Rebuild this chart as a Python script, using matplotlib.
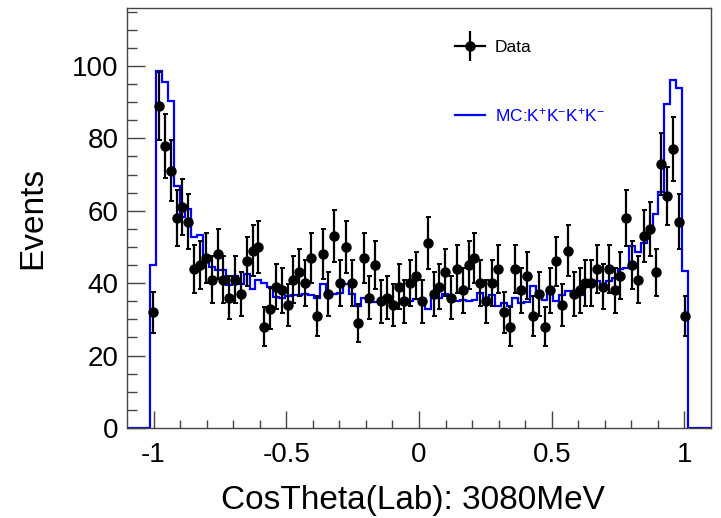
import numpy as np
import matplotlib
matplotlib.use('Agg')
import matplotlib.pyplot as plt
from matplotlib.lines import Line2D

plt.rcParams['font.family'] = ['Liberation Sans', 'DejaVu Sans']
plt.rcParams['mathtext.default'] = 'regular'

# histogram binning: 100 bins on [-1.1, 1.1], filled bins are 4..95
n_bins = 100
x_lo, x_hi = -1.1, 1.1
first_bin = 4

# data counts, bins 4..95
data = [32, 89, 78, 71, 58, 61, 57, 44, 45, 47, 41, 48, 41, 36, 41, 37,
        46, 49, 50, 28, 33, 39, 38, 34, 41, 43, 40, 47, 31, 48, 37, 53,
        40, 50, 40, 29, 47, 36, 45, 35, 36, 34, 39, 35, 40, 42, 35, 51,
        37, 39, 43, 36, 44, 38, 45, 47, 40, 35, 40, 44, 32, 28, 44, 38,
        42, 31, 37, 28, 38, 46, 34, 49, 37, 38, 40, 40, 44, 39, 44, 38,
        42, 58, 45, 41, 53, 55, 43, 73, 64, 77, 57, 31]

# MC K+K-K+K- (normalised), bins 4..95
mc = [45.0, 98.7, 95.7, 90.4, 66.9, 58.4, 60.5, 52.8, 53.4, 47.5, 44.4, 43.6,
      43.6, 39.5, 42.0, 39.8, 42.5, 38.3, 40.9, 40.1, 38.9, 36.3, 35.9, 36.5,
      36.6, 36.6, 37.0, 36.7, 35.8, 39.9, 36.8, 36.9, 37.2, 39.8, 37.0, 33.6,
      36.0, 34.7, 34.7, 34.7, 34.7, 34.3, 34.2, 34.7, 35.1, 35.6, 35.6, 32.8,
      36.5, 35.9, 37.1, 35.9, 35.2, 35.4, 35.2, 35.4, 37.3, 34.5, 36.6, 33.8,
      34.4, 33.6, 35.8, 34.6, 34.9, 39.1, 36.6, 35.4, 38.3, 35.1, 36.8, 37.9,
      36.5, 36.6, 40.5, 40.9, 40.7, 39.6, 40.5, 41.3, 43.8, 44.3, 50.4, 48.7,
      51.0, 55.2, 59.1, 65.1, 89.5, 96.0, 93.8, 43.4]

edges = np.linspace(x_lo, x_hi, n_bins + 1)
centers = 0.5 * (edges[:-1] + edges[1:])
mc_full = np.zeros(n_bins)
mc_full[first_bin:first_bin + len(mc)] = mc
data = np.array(data, dtype=float)
xc = centers[first_bin:first_bin + len(data)]

fig = plt.figure(figsize=(7.21, 5.18), dpi=100)
ax = fig.add_axes([127 / 721, 1 - 428 / 518, 584 / 721, 420 / 518])

ax.stairs(mc_full, edges, color='blue', lw=1.6)
ax.errorbar(xc, data, yerr=np.sqrt(data), fmt='o', color='black',
            ms=6.5, elinewidth=1.6, capsize=1.8, capthick=1.4)

ax.set_xlim(x_lo, x_hi)
ax.set_ylim(0, 116)
ax.set_xticks([-1, -0.5, 0, 0.5, 1])
ax.set_xticklabels(['-1', '-0.5', '0', '0.5', '1'])
ax.set_xticks(np.arange(-1.0, 1.05, 0.1), minor=True)
ax.set_yticks([0, 20, 40, 60, 80, 100])
ax.set_yticks(np.arange(0, 116, 5), minor=True)
ax.tick_params(which='both', direction='in', top=False, right=False,
               labelsize=20, width=1, color='#444444')
ax.tick_params(axis='x', which='major', length=12, pad=10)
ax.tick_params(axis='x', which='minor', length=6)
ax.tick_params(axis='y', which='major', length=13, pad=6)
ax.tick_params(axis='y', which='minor', length=7)
for s in ax.spines.values():
    s.set_color('#444444')
    s.set_linewidth(1)

ax.set_xlabel('CosTheta(Lab): 3080MeV', fontsize=24)
ax.set_ylabel('Events', fontsize=24)
ax.xaxis.set_label_coords(0.49, -0.135)
ax.yaxis.set_label_coords(-0.135, 0.5)

# legend: data marker drawn as a cross with a dot, MC as a blue line
data_handle = (Line2D([], [], color='black', lw=1.6),
               Line2D([], [], color='black', marker='|', ms=22, mew=1.6, ls='none'),
               Line2D([], [], color='black', marker='o', ms=6.5, ls='none'))
mc_handle = Line2D([], [], color='blue', lw=1.6)
leg = ax.legend([data_handle, mc_handle],
                ['Data', r'MC:K$^{+}$K$^{-}$K$^{+}$K$^{-}$'],
                loc='upper left', bbox_to_anchor=(455 / 721, 1 - 40 / 518),
                bbox_transform=fig.transFigure, frameon=False, fontsize=12.5,
                handlelength=1.7, handletextpad=0.6, labelspacing=2.95,
                borderpad=0, borderaxespad=0)
leg.get_texts()[1].set_color('blue')

fig.savefig('out.png', dpi=100)
